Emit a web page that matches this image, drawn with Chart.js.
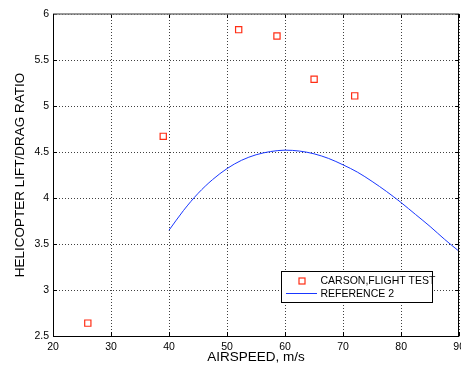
<!DOCTYPE html>
<html>
<head>
<meta charset="utf-8">
<script src="https://cdn.jsdelivr.net/npm/chart.js@4/dist/chart.umd.min.js"></script>
<style>
html,body{margin:0;padding:0;background:#fff;overflow:hidden;width:461px;height:366px;}
#wrap{width:461px;height:366px;position:relative;overflow:hidden;}
canvas{display:block;}
</style>
</head>
<body>
<div id="wrap"><canvas id="c" width="470" height="366"></canvas></div>
<script>
// ---- data ----
const flightSpeed = [26, 39, 52, 58.6, 65, 72];
const flightRatio = [2.64, 4.67, 5.83, 5.76, 5.29, 5.11];
const refSpeed = [40, 42.5, 45, 47.5, 50, 52.5, 55, 57.5, 60, 62.5, 65, 67.5, 70, 72.5, 75, 77.5, 80, 82.5, 85, 87.5, 90];
const refRatio = [3.65, 3.865, 4.05, 4.20, 4.32, 4.41, 4.47, 4.505, 4.52, 4.51, 4.48, 4.43, 4.36, 4.28, 4.18, 4.07, 3.95, 3.82, 3.69, 3.55, 3.42];
const seriesNames = ['CARSON,FLIGHT TEST', 'REFERENCE 2'];
const xTitle = 'AIRSPEED, m/s';
const yTitle = 'HELICOPTER LIFT/DRAG RATIO';

const RED = 'rgb(255,45,20)';
const BLUE = 'rgb(25,55,255)';
const FONT = '"Liberation Sans", Arial, sans-serif';

const framePlugin = {
  id: 'frame',
  afterDraw(chart) {
    const ctx = chart.ctx, a = chart.chartArea;
    const xs = chart.scales.x, ys = chart.scales.y;
    ctx.save();
    // inward tick marks
    ctx.strokeStyle = '#000';
    ctx.lineWidth = 1;
    const tl = 4;
    ctx.beginPath();
    xs.ticks.forEach(t => {
      const px = Math.round(xs.getPixelForValue(t.value)) + 0.5;
      ctx.moveTo(px, a.bottom); ctx.lineTo(px, a.bottom - tl);
      ctx.moveTo(px, a.top); ctx.lineTo(px, a.top + tl);
    });
    ys.ticks.forEach(t => {
      const py = Math.round(ys.getPixelForValue(t.value)) + 0.5;
      ctx.moveTo(a.left, py); ctx.lineTo(a.left + tl, py);
      ctx.moveTo(a.right, py); ctx.lineTo(a.right - tl, py);
    });
    ctx.stroke();
    // frame
    ctx.strokeStyle = '#777';
    ctx.lineWidth = 1.5;
    ctx.beginPath();
    ctx.moveTo(a.left, a.top); ctx.lineTo(a.right, a.top);
    ctx.stroke();
    ctx.strokeStyle = '#000';
    ctx.lineWidth = 1;
    ctx.beginPath();
    ctx.moveTo(Math.round(a.left)+0.5, a.top);
    ctx.lineTo(Math.round(a.left)+0.5, Math.round(a.bottom)+0.5);
    ctx.lineTo(a.right, Math.round(a.bottom)+0.5);
    ctx.moveTo(Math.round(a.right)-0.5, a.top);
    ctx.lineTo(Math.round(a.right)-0.5, a.bottom);
    ctx.stroke();

    // legend box
    const bx = 281.5, by = 271.5, bw = 151, bh = 31;
    ctx.fillStyle = '#fff';
    ctx.fillRect(bx, by, bw, bh);
    ctx.strokeStyle = '#000';
    ctx.lineWidth = 1;
    ctx.strokeRect(bx, by, bw, bh);
    // marker
    ctx.strokeStyle = RED;
    ctx.lineWidth = 1.2;
    ctx.strokeRect(299, 278, 6, 6);
    // line
    ctx.strokeStyle = BLUE;
    ctx.lineWidth = 1;
    ctx.beginPath();
    ctx.moveTo(286, 293.5); ctx.lineTo(317, 293.5);
    ctx.stroke();
    ctx.fillStyle = '#000';
    ctx.font = '10.5px ' + FONT;
    ctx.textBaseline = 'middle';
    ctx.textAlign = 'left';
    ctx.fillText(chart.data.datasets[0].label, 320.5, 281.5);
    ctx.fillText(chart.data.datasets[1].label, 320.5, 294);
    ctx.restore();
  }
};

const fmt = v => String(Math.round(v * 10) / 10);

new Chart(document.getElementById('c'), {
  type: 'scatter',
  data: {
    datasets: [
      {
        label: seriesNames[0],
        data: flightSpeed.map((x, i) => ({x: x, y: flightRatio[i]})),
        pointStyle: 'rect',
        pointRadius: 4.4,
        pointBorderColor: RED,
        pointBackgroundColor: 'rgba(0,0,0,0)',
        pointBorderWidth: 1.2,
        showLine: false
      },
      {
        label: seriesNames[1],
        data: refSpeed.map((x, i) => ({x: x, y: refRatio[i]})),
        showLine: true,
        borderColor: BLUE,
        borderWidth: 1,
        pointRadius: 0,
        cubicInterpolationMode: 'monotone',
        fill: false
      }
    ]
  },
  options: {
    responsive: false,
    animation: false,
    devicePixelRatio: 1,
    layout: { padding: { left: 0, right: 0, top: 14, bottom: 0 } },
    plugins: { legend: { display: false }, tooltip: { enabled: false } },
    scales: {
      x: {
        type: 'linear',
        min: 20, max: 90,
        afterFit(s) { s.height = 30; },
        ticks: { stepSize: 10, color: '#000', font: { family: FONT, size: 10.5 }, padding: 5, maxRotation: 0, callback: fmt },
        grid: { color: 'rgba(0,0,0,0.75)', lineWidth: 1, drawTicks: false },
        border: { display: false, dash: [1, 2] },
        title: { display: true, text: xTitle, color: '#000', font: { family: FONT, size: 13.5 }, padding: { top: 0, bottom: 1 } }
      },
      y: {
        type: 'linear',
        min: 2.5, max: 6,
        afterFit(s) { s.width = 53; },
        ticks: { stepSize: 0.5, color: '#000', font: { family: FONT, size: 10.5 }, padding: 4, callback: fmt },
        grid: { color: 'rgba(0,0,0,0.75)', lineWidth: 1, drawTicks: false },
        border: { display: false, dash: [1, 2] },
        title: { display: true, text: yTitle, color: '#000', font: { family: FONT, size: 13.5 }, padding: { top: 12, bottom: 0 } }
      }
    }
  },
  plugins: [framePlugin]
});
</script>
</body>
</html>
